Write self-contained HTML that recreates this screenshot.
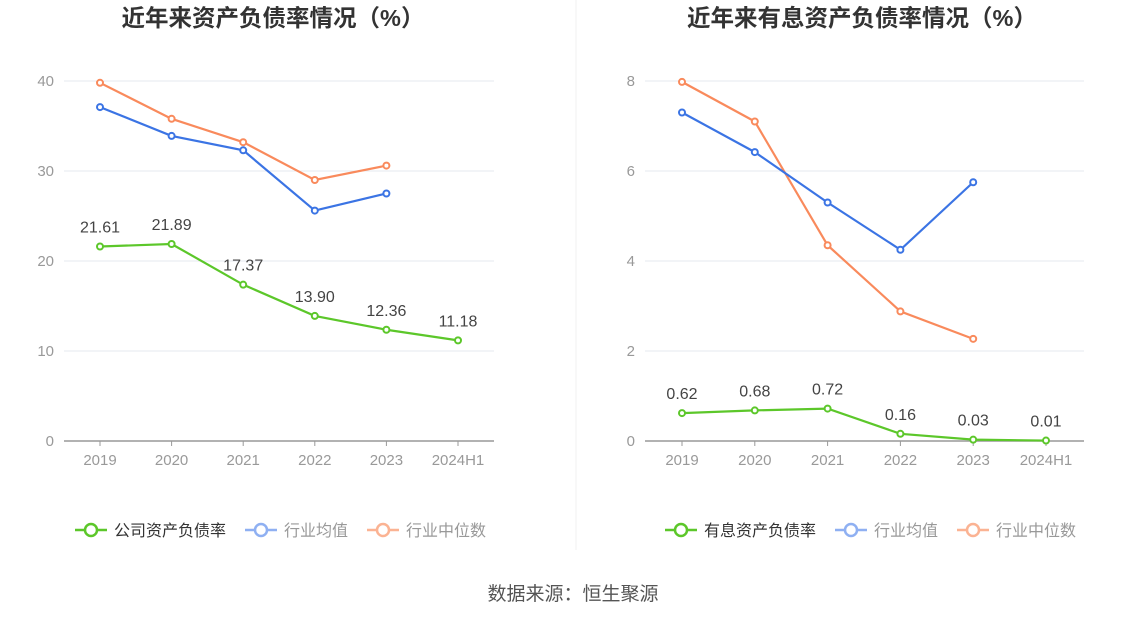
<!DOCTYPE html>
<html><head><meta charset="utf-8">
<style>
body{margin:0;background:#fff;width:1147px;height:619px;overflow:hidden;font-family:"Liberation Sans","Noto Sans CJK SC",sans-serif;}
svg text{font-family:"Liberation Sans","Noto Sans CJK SC",sans-serif;}
</style></head>
<body>
<svg id="s" width="1147" height="619"></svg>
<script>
const years = ["2019","2020","2021","2022","2023","2024H1"];
const leftCompany = [21.61,21.89,17.37,13.90,12.36,11.18];
const leftAvg = [37.1,33.9,32.3,25.6,27.5];
const leftMedian = [39.8,35.8,33.2,29.0,30.6];
const leftTicks = [0,10,20,30,40];
const rightCompany = [0.62,0.68,0.72,0.16,0.03,0.01];
const rightAvg = [7.3,6.42,5.3,4.25,5.75];
const rightMedian = [7.98,7.1,4.35,2.88,2.27];
const rightTicks = [0,2,4,6,8];

const NS="http://www.w3.org/2000/svg";
const svg=document.getElementById('s');
function mk(t,a,txt){const e=document.createElementNS(NS,t);for(const k in a)e.setAttribute(k,a[k]);if(txt!==undefined)e.textContent=txt;svg.appendChild(e);return e;}

function chart(cfg){
  const x=i=>cfg.x0+i*cfg.step;
  const y=v=>441-v/cfg.max*360;
  let t=mk('text',{x:cfg.cx,y:26,'text-anchor':'middle','font-size':23.5,'font-weight':'bold',fill:'#333'},cfg.title);
  
  cfg.ticks.forEach(v=>{
    if(v>0){let g=mk('line',{x1:cfg.ax0,x2:cfg.ax1,y1:y(v),y2:y(v),stroke:'#e6e8ef'});}
    let l=mk('text',{x:cfg.ax0-10,y:y(v)+5,'text-anchor':'end','font-size':15,fill:'#999'},v);
    
  });
  let ax=mk('line',{x1:cfg.ax0,x2:cfg.ax1,y1:441,y2:441,stroke:'#999','stroke-width':1.5});
  
  years.forEach((yr,i)=>{
    mk('line',{x1:x(i),x2:x(i),y1:441,y2:446,stroke:'#999'});
    let l=mk('text',{x:x(i),y:465,'text-anchor':'middle','font-size':15,fill:'#999'},yr);
    
  });
  function series(vals,color,name,labels){
    let p=mk('polyline',{points:vals.map((v,i)=>x(i)+','+y(v)).join(' '),fill:'none',stroke:color,'stroke-width':2.2});
    
    vals.forEach((v,i)=>{
      let c=mk('circle',{cx:x(i),cy:y(v),r:3,fill:'#fff',stroke:color,'stroke-width':2});
      
      if(labels){let l=mk('text',{x:x(i),y:y(v)-14,'text-anchor':'middle','font-size':16,fill:'#444'},v.toFixed(2));
        }
    });
  }
  series(cfg.median,'#f98a5c','median');
  series(cfg.avg,'#3b74e4','average');
  series(cfg.company,'#5cc72a','company',true);
  const leg=[[cfg.legend,'#5cc72a','#333'],['行业均值','#8fb0f2','#999'],['行业中位数','#fbb393','#999']];
  let lx=cfg.lx;
  leg.forEach((L,k)=>{
    mk('line',{x1:lx,x2:lx+32,y1:530,y2:530,stroke:L[1],'stroke-width':2.5});
    let c=mk('circle',{cx:lx+16,cy:530,r:6,fill:'#fff',stroke:L[1],'stroke-width':2.5});
    
    let t=mk('text',{x:lx+39,y:536,'font-size':16,fill:L[2]},L[0]);
    
    lx+=39+L[0].length*16+19;
  });
}
chart({id:'left',title:'近年来资产负债率情况（%）',cx:273,x0:100,step:71.6,ax0:64,ax1:494,max:40,ticks:leftTicks,company:leftCompany,avg:leftAvg,median:leftMedian,legend:'公司资产负债率',lx:75});
chart({id:'right',title:'近年来有息资产负债率情况（%）',cx:862,x0:682,step:72.8,ax0:645,ax1:1084,max:8,ticks:rightTicks,company:rightCompany,avg:rightAvg,median:rightMedian,legend:'有息资产负债率',lx:665});
let d=mk('line',{x1:576,x2:576,y1:0,y2:550,stroke:'#f0f0f0'});
let s=mk('text',{x:573,y:600,'text-anchor':'middle','font-size':19,fill:'#555'},'数据来源：恒生聚源');

</script>
</body></html>
